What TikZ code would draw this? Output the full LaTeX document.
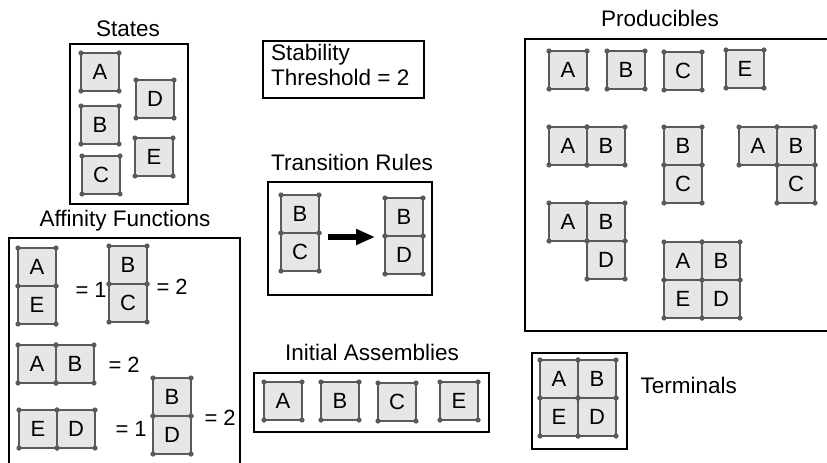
\documentclass[tikz,border=0pt]{standalone}
\usepackage{fontspec}
\setmainfont{Liberation Sans}
\usetikzlibrary{positioning,arrows.meta}
\definecolor{tilefill}{HTML}{E6E6E6}
\definecolor{tileline}{HTML}{5A5A5A}
\begin{document}
\begin{tikzpicture}[x=1pt,y=-1pt,
	tile/.style={draw=tileline, fill=tilefill, line width=1.2pt, minimum size=38pt,
		inner sep=0pt, outer sep=0pt, font=\fontsize{22}{22}\selectfont},
	group/.style={draw=black, line width=2.2pt},
	title/.style={anchor=base, font=\fontsize{22.5}{25}\selectfont},
	eq/.style={anchor=base west, font=\fontsize{22}{22}\selectfont},
	corner/.style={fill=tileline}
	]
\useasboundingbox (0,0) rectangle (827,463);

% States
\node[title] (states) at (128,36) {States};
\draw[group] (70,44) rectangle (188,204);
\node[tile] (sA) at (100,72) {A};
\node[tile] (sB) at (100,125) {B};
\node[tile] (sC) at (101,175) {C};
\node[tile] (sD) at (155,99) {D};
\node[tile] (sE) at (154,157) {E};

% Affinity Functions
\node[title] (affinity) at (125,226) {Affinity Functions};
\draw[group] (9,238) rectangle (240,475);
\node[tile] (afA) at (37,267) {A};
\node[tile, below=0pt of afA] (afE) {E};
\node[eq] (eqAE) at (72,297) {= 1};
\node[tile] (afB) at (128,265) {B};
\node[tile, below=0pt of afB] (afC) {C};
\node[eq] (eqBC) at (153,294) {= 2};
\node[tile] (afA2) at (37,364) {A};
\node[tile, right=0pt of afA2] (afB2) {B};
\node[eq] (eqAB) at (105,372) {= 2};
\node[tile] (afE2) at (38,429) {E};
\node[tile, right=0pt of afE2] (afD2) {D};
\node[eq] (eqED) at (112,436) {= 1};
\node[tile] (afB3) at (172,397) {B};
\node[tile, below=0pt of afB3] (afD3) {D};
\node[eq] (eqBD) at (201,425) {= 2};

% Stability Threshold
\draw[group] (263,41) rectangle (424,98);
\node[anchor=north west, align=left, inner sep=0pt, font=\fontsize{22.5}{25}\selectfont] (stab) at (271,44) {Stability\\Threshold = 2};

% Transition Rules
\node[title] (transition) at (352,170) {Transition Rules};
\draw[group] (268,182) rectangle (432,295);
\node[tile] (trB) at (300,214) {B};
\node[tile, below=0pt of trB] (trC) {C};
\node[tile] (trB2) at (404,217) {B};
\node[tile, below=0pt of trB2] (trD) {D};
\coordinate (arrL) at ([xshift=9pt,yshift=-4pt]trB.south east);
\draw[line width=5.5pt, -{Triangle[length=19pt,width=15pt]}] (arrL) -- ([xshift=-10pt]arrL -| trB2.west);

% Initial Assemblies
\node[title] (initial) at (372,360) {Initial Assemblies};
\draw[group] (254,373) rectangle (489,432);
\node[tile] (inA) at (283,401) {A};
\node[tile] (inB) at (340,401) {B};
\node[tile] (inC) at (397,402) {C};
\node[tile] (inE) at (459,401) {E};

% Producibles
\node[title] (producibles) at (660,27) {Producibles};
\draw[group] (525,39) rectangle (840,331);
\node[tile] (pA) at (568,70) {A};
\node[tile] (pB) at (626,70) {B};
\node[tile] (pC) at (683,71) {C};
\node[tile] (pE) at (745,69) {E};
\node[tile] (pA2) at (568,146) {A};
\node[tile, right=0pt of pA2] (pB2) {B};
\node[tile] (pB3) at (683,146) {B};
\node[tile, below=0pt of pB3] (pC3) {C};
\node[tile] (pA4) at (758,146) {A};
\node[tile, right=0pt of pA4] (pB4) {B};
\node[tile, below=0pt of pB4] (pC4) {C};
\node[tile] (pA5) at (568,222) {A};
\node[tile, right=0pt of pA5] (pB5) {B};
\node[tile, below=0pt of pB5] (pD5) {D};
\node[tile] (pA6) at (683,261) {A};
\node[tile, right=0pt of pA6] (pB6) {B};
\node[tile, below=0pt of pA6] (pE6) {E};
\node[tile, right=0pt of pE6] (pD6) {D};

% Terminals
\draw[group] (532,353) rectangle (627,449);
\node[tile] (tA) at (559,379) {A};
\node[tile, right=0pt of tA] (tB) {B};
\node[tile, below=0pt of tA] (tE) {E};
\node[tile, right=0pt of tE] (tD) {D};
\node[anchor=base west, font=\fontsize{22.5}{22}\selectfont] (terminals) at (637,393) {Terminals};

% corner dots
\foreach \t in {sA,sB,sC,sD,sE,afA,afE,afB,afC,afA2,afB2,afE2,afD2,afB3,afD3,
		trB,trC,trB2,trD,inA,inB,inC,inE,pA,pB,pC,pE,pA2,pB2,pB3,pC3,pA4,pB4,pC4,
		pA5,pB5,pD5,pA6,pB6,pE6,pD6,tA,tB,tE,tD}
	\foreach \c in {north west,north east,south west,south east}
		\fill[corner] (\t.\c) circle (2.6pt);
\end{tikzpicture}
\end{document}
